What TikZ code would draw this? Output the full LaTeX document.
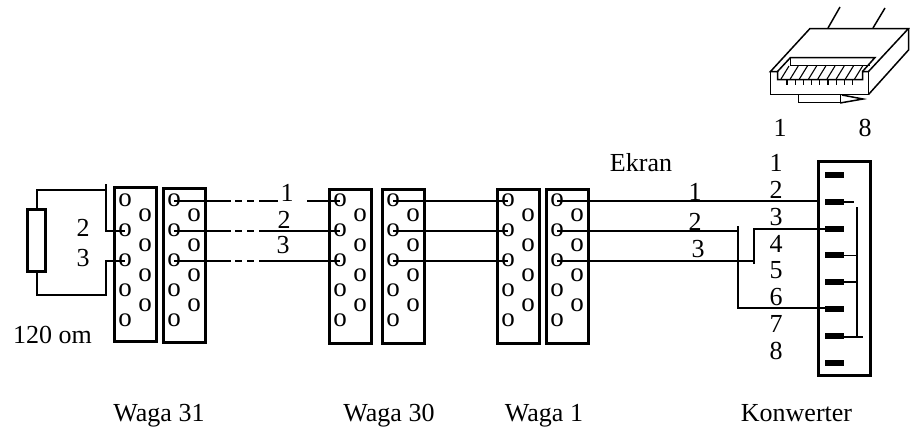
\documentclass[tikz,border=0pt]{standalone}
\usepackage{fontspec}
\setmainfont{Liberation Serif}
\usetikzlibrary{positioning,arrows.meta,shapes,backgrounds,fit}

\begin{document}
\begin{tikzpicture}[
        x=1pt, y=-1pt,
        font=\fontsize{26}{30}\selectfont,
        waga/.style = {rectangle, draw, line width=2.2pt, minimum width=42pt, minimum height=154pt, inner sep=0pt},
        hole/.style = {inner sep=0pt, font=\fontsize{27}{30}\selectfont},
        bar/.style = {rectangle, fill=black, minimum width=19pt, minimum height=6pt, inner sep=0pt},
        lab/.style = {inner sep=0pt},
        title/.style = {inner sep=0pt, anchor=base},
        wire/.style = {draw, line width=2pt},
        thin wire/.style = {draw, line width=1.5pt},
        plug/.style = {draw, line width=1.5pt}
    ]
    \useasboundingbox (0,0) rectangle (910,432);

    % terminal blocks
    \foreach \name/\xx/\yy in {w31a/135.5/264.5, w31b/184.5/265.5, w30a/350.5/266.5, w30b/403.5/266.5, w1a/518.5/266.5, w1b/567.5/266.5} {
        \node [waga] (\name) at (\xx,\yy) {};
        \foreach \i in {1,...,5}
            \node [hole] (\name-\i) at (\xx-10.5,170.5+30*\i) {o};
        \foreach \i in {1,...,4}
            \node [hole] (\name-r\i) at (\xx+9.5,185.5+30*\i) {o};
    }

    % resistor
    \node [rectangle, draw, line width=2.2pt, minimum width=18pt, minimum height=62pt, inner sep=0pt] (res) at (36.5,240.5) {};
    \coordinate (res_top) at (105.5,189.5);
    \coordinate (res_bot) at (105.5,294.5);
    \path [wire] (res.north) |- (res_top);
    \path [wire] (105.5,184) -- (105.5,230.5) -- (w31a-2.center);
    \path [wire] (res.south) |- (res_bot) -- (105.5,260.5) -- (w31a-3.center);

    % cable between 31 and 30
    \coordinate (stub1) at (278,200.5);
    \coordinate (stub2) at (307,200.5);
    \path [wire, dash pattern=on 57pt off 4pt on 7pt off 5pt on 7pt off 5pt on 200pt] (w31b-1.center) -- (stub1);
    \path [wire] (stub2) -- (w30a-1.center);
    \path [wire, dash pattern=on 57pt off 4pt on 7pt off 5pt on 7pt off 5pt on 200pt] (w31b-2.center) -- (w30a-2.center);
    \path [wire, dash pattern=on 57pt off 4pt on 7pt off 5pt on 7pt off 5pt on 200pt] (w31b-3.center) -- (w30a-3.center);

    % 30 to 1
    \foreach \i in {1,2,3}
        \path [wire] (w30b-\i.center) -- (w1a-\i.center);

    % converter
    \node [rectangle, draw, line width=2.2pt, minimum width=52pt, minimum height=214pt, inner sep=0pt] (konw) at (844.5,268.5) {};
    \foreach \i in {1,...,8} {
        \node [bar] (k\i) at (834.5,148.2+26.8*\i) {};
        \node [lab] (num\i) at (776,136.5+26.8*\i) {\i};
    }

    % 1 to converter
    \coordinate (j2a) at (737.5,226);
    \coordinate (j2b) at (737.5,307.5);
    \coordinate (j3a) at (753.5,228.5);
    \coordinate (j3b) at (753.5,264);
    \path [wire, shorten >=5pt] (w1b-1.center) -- (w1b-1.center -| k2.west);
    \path [wire] (w1b-2.center) -- (w1b-2.center -| j2a);
    \path [wire] (j2a) -- (j2b) -- (j2b -| k6.west);
    \path [wire] (w1b-3.center) -- (w1b-3.center -| j3a);
    \path [wire] (j3b) -- (j3a) -- (j3a -| k3.west);

    % bridge inside the converter
    \coordinate (bus_top) at (856.5,207);
    \coordinate (bus_bot) at (856.5,337);
    \path [wire] (bus_top) -- (bus_bot);
    \path [thin wire] (k2.east) -- ++(10,0);
    \path [thin wire] (k4.east) -- (k4.east -| bus_top);
    \path [thin wire] (k5.east) -- (k5.east -| bus_top);
    \path [wire] (k7.east) ++(-2,1) -- ++(21,0);

    % labels
    \node [lab] (l2) at (83,228) {2};
    \node [lab] (l3) at (83,258) {3};
    \node [lab] (ohm) at (52.5,335) {120 om};
    \node [lab] (c1) at (287,193) {1};
    \node [lab] (c2) at (284,220) {2};
    \node [lab] (c3) at (283,245) {3};
    \node [lab] (ekran) at (641,163) {Ekran};
    \node [lab] (e1) at (695,192) {1};
    \node [lab] (e2) at (695,222) {2};
    \node [lab] (e3) at (698,249) {3};
    \node [title] (t31) at (159,421) {Waga 31};
    \node [title] (t30) at (389,421) {Waga 30};
    \node [title] (t1) at (544,421) {Waga 1};
    \node [title] (tk) at (796.5,421) {Konwerter};
    \node [lab] (p1) at (780,128) {1};
    \node [lab] (p8) at (865,128) {8};

    % RJ45 plug
    \path [plug] (770.5,71.5) -- (810,28.5) -- (908.5,28.5) -- (868.5,71.5) -- (862.5,71.5) -- (862.5,79.5) -- (777.5,79.5) -- (777.5,71.5) -- cycle;
    \path [plug] (770.5,71.5) -- (770.5,94.5) -- (868.5,94.5) -- (868.5,71.5);
    \path [plug] (908.5,28.5) -- (908.5,50) -- (868.5,94.5);
    \path [plug] (828,28) -- (840,7);
    \path [plug] (873,28) -- (885,8);
    \path [plug] (777.5,71.5) -- (790.5,57.5) -- (875,57.5) -- (862.5,71.5);
    \path [plug] (790.5,57.5) -- (790.5,65.5) -- (870,65.5);
    \foreach \i in {0,...,8} {
        \path [thin wire, line width=1.1pt] (781+9.2*\i,79) -- (789+9.2*\i,66);
        \path [thin wire, line width=1.1pt] (787+8.2*\i,79) -- (787+8.2*\i,85);
    }
    \path [plug] (798.5,94.5) -- (798.5,102.5) -- (840.5,102.5) -- (840.5,94.5);
    \path [plug] (842,95) -- (863,99) -- (840,103);

\end{tikzpicture}
\end{document}
